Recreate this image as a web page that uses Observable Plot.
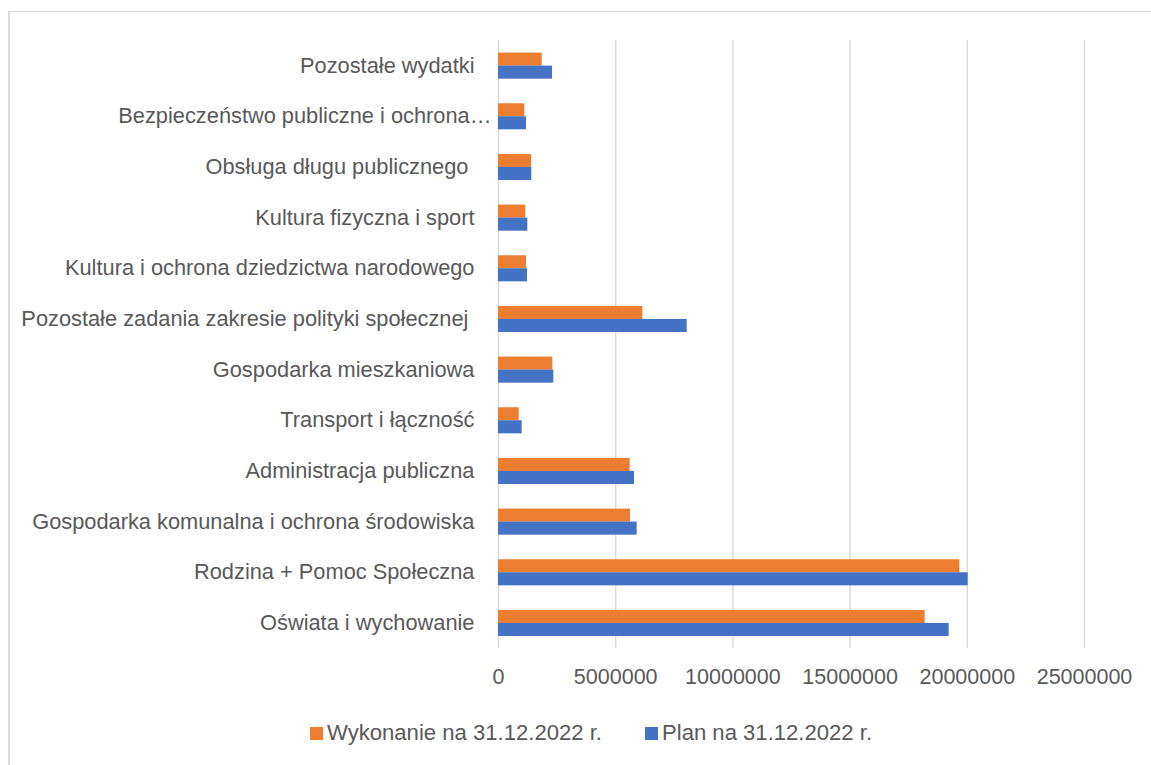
<!DOCTYPE html>
<html>
<head>
<meta charset="utf-8">
<script src="https://cdn.jsdelivr.net/npm/d3@7"></script>
<script src="https://cdn.jsdelivr.net/npm/@observablehq/plot@0.6"></script>
<style>
  html, body { margin: 0; padding: 0; background: #fff; overflow: hidden; width: 1151px; height: 765px; }
  #frame { position: absolute; left: 8px; top: 11px; width: 2000px; height: 2000px;
           border-left: 2px solid #dcdcdc; border-top: 1px solid #dcdcdc; pointer-events: none; }
  #chart { position: absolute; left: 0; top: 0; }
  #chart svg { background: transparent; overflow: visible; }
  #chart svg text { white-space: pre; }
  .legend { position: absolute; top: 720px; font-family: "Liberation Sans", Arial, sans-serif;
            font-size: 22.1px; color: #595959; display: flex; align-items: center; height: 26px; }
  .sw { width: 13px; height: 13px; margin-right: 4px; }
</style>
</head>
<body>
<div id="chart"></div>
<div class="legend" style="left:310px"><div class="sw" style="background:#ED7D31"></div><span id="l1"></span></div>
<div class="legend" style="left:645px"><div class="sw" style="background:#4472C4"></div><span id="l2"></span></div>
<div id="frame"></div>
<script>
const categories = [
  "Pozostałe wydatki",
  "Bezpieczeństwo publiczne i ochrona…",
  "Obsługa długu publicznego ",
  "Kultura fizyczna i sport",
  "Kultura i ochrona dziedzictwa narodowego",
  "Pozostałe zadania zakresie polityki społecznej ",
  "Gospodarka mieszkaniowa",
  "Transport i łączność",
  "Administracja publiczna",
  "Gospodarka komunalna i ochrona środowiska",
  "Rodzina + Pomoc Społeczna",
  "Oświata i wychowanie"
];
const wykonanie = [1864000, 1122000, 1408000, 1166000, 1195000, 6157000, 2318000, 882000, 5617000, 5631000, 19682000, 18202000];
const plan = [2304000, 1195000, 1420000, 1251000, 1237000, 8050000, 2361000, 1010000, 5802000, 5916000, 20037000, 19227000];
const seriesNames = ["Wykonanie na 31.12.2022 r.", "Plan na 31.12.2022 r."];
const xTicks = [0, 5000000, 10000000, 15000000, 20000000, 25000000];

const data = categories.map((c, i) => ({cat: c, wyk: wykonanie[i], plan: plan[i]}));
const truncated = categories.filter(c => c.endsWith("…"));
const normal = categories.filter(c => !c.endsWith("…"));

const font = "Liberation Sans, Arial, sans-serif";
const textColor = "#595959";

const chart = Plot.plot({
  width: 1151,
  height: 700,
  marginLeft: 498,
  marginRight: 67,
  marginTop: 40,
  marginBottom: 52,
  style: {fontFamily: font, background: "transparent", overflow: "visible"},
  x: {domain: [0, 25000000], axis: null},
  y: {domain: categories, padding: 0, round: false, axis: null},
  marks: [
    Plot.ruleX(xTicks, {stroke: "#d9d9d9", strokeWidth: 1.4}),
    Plot.barX(data, {x: "wyk", y: "cat", fill: "#ED7D31", insetTop: 12.6, insetBottom: 25.0}),
    Plot.barX(data, {x: "plan", y: "cat", fill: "#4472C4", insetTop: 25.6, insetBottom: 12.0}),
    Plot.axisX({ticks: xTicks, tickFormat: d3.format("d"), tickSize: 0, tickPadding: 20,
                fontSize: 21.5, fill: textColor, fontFamily: font, label: null}),
    Plot.text(normal, {x: () => 0, y: d => d, text: d => d, textAnchor: "end", dx: -24,
                       fontSize: 21.8, fill: textColor, fontFamily: font}),
    Plot.text(truncated, {x: () => 0, y: d => d, text: d => d, textAnchor: "end", dx: -7,
                          fontSize: 21.8, fill: textColor, fontFamily: font})
  ]
});
document.getElementById("chart").appendChild(chart);
document.getElementById("l1").textContent = seriesNames[0];
document.getElementById("l2").textContent = seriesNames[1];
</script>
</body>
</html>
